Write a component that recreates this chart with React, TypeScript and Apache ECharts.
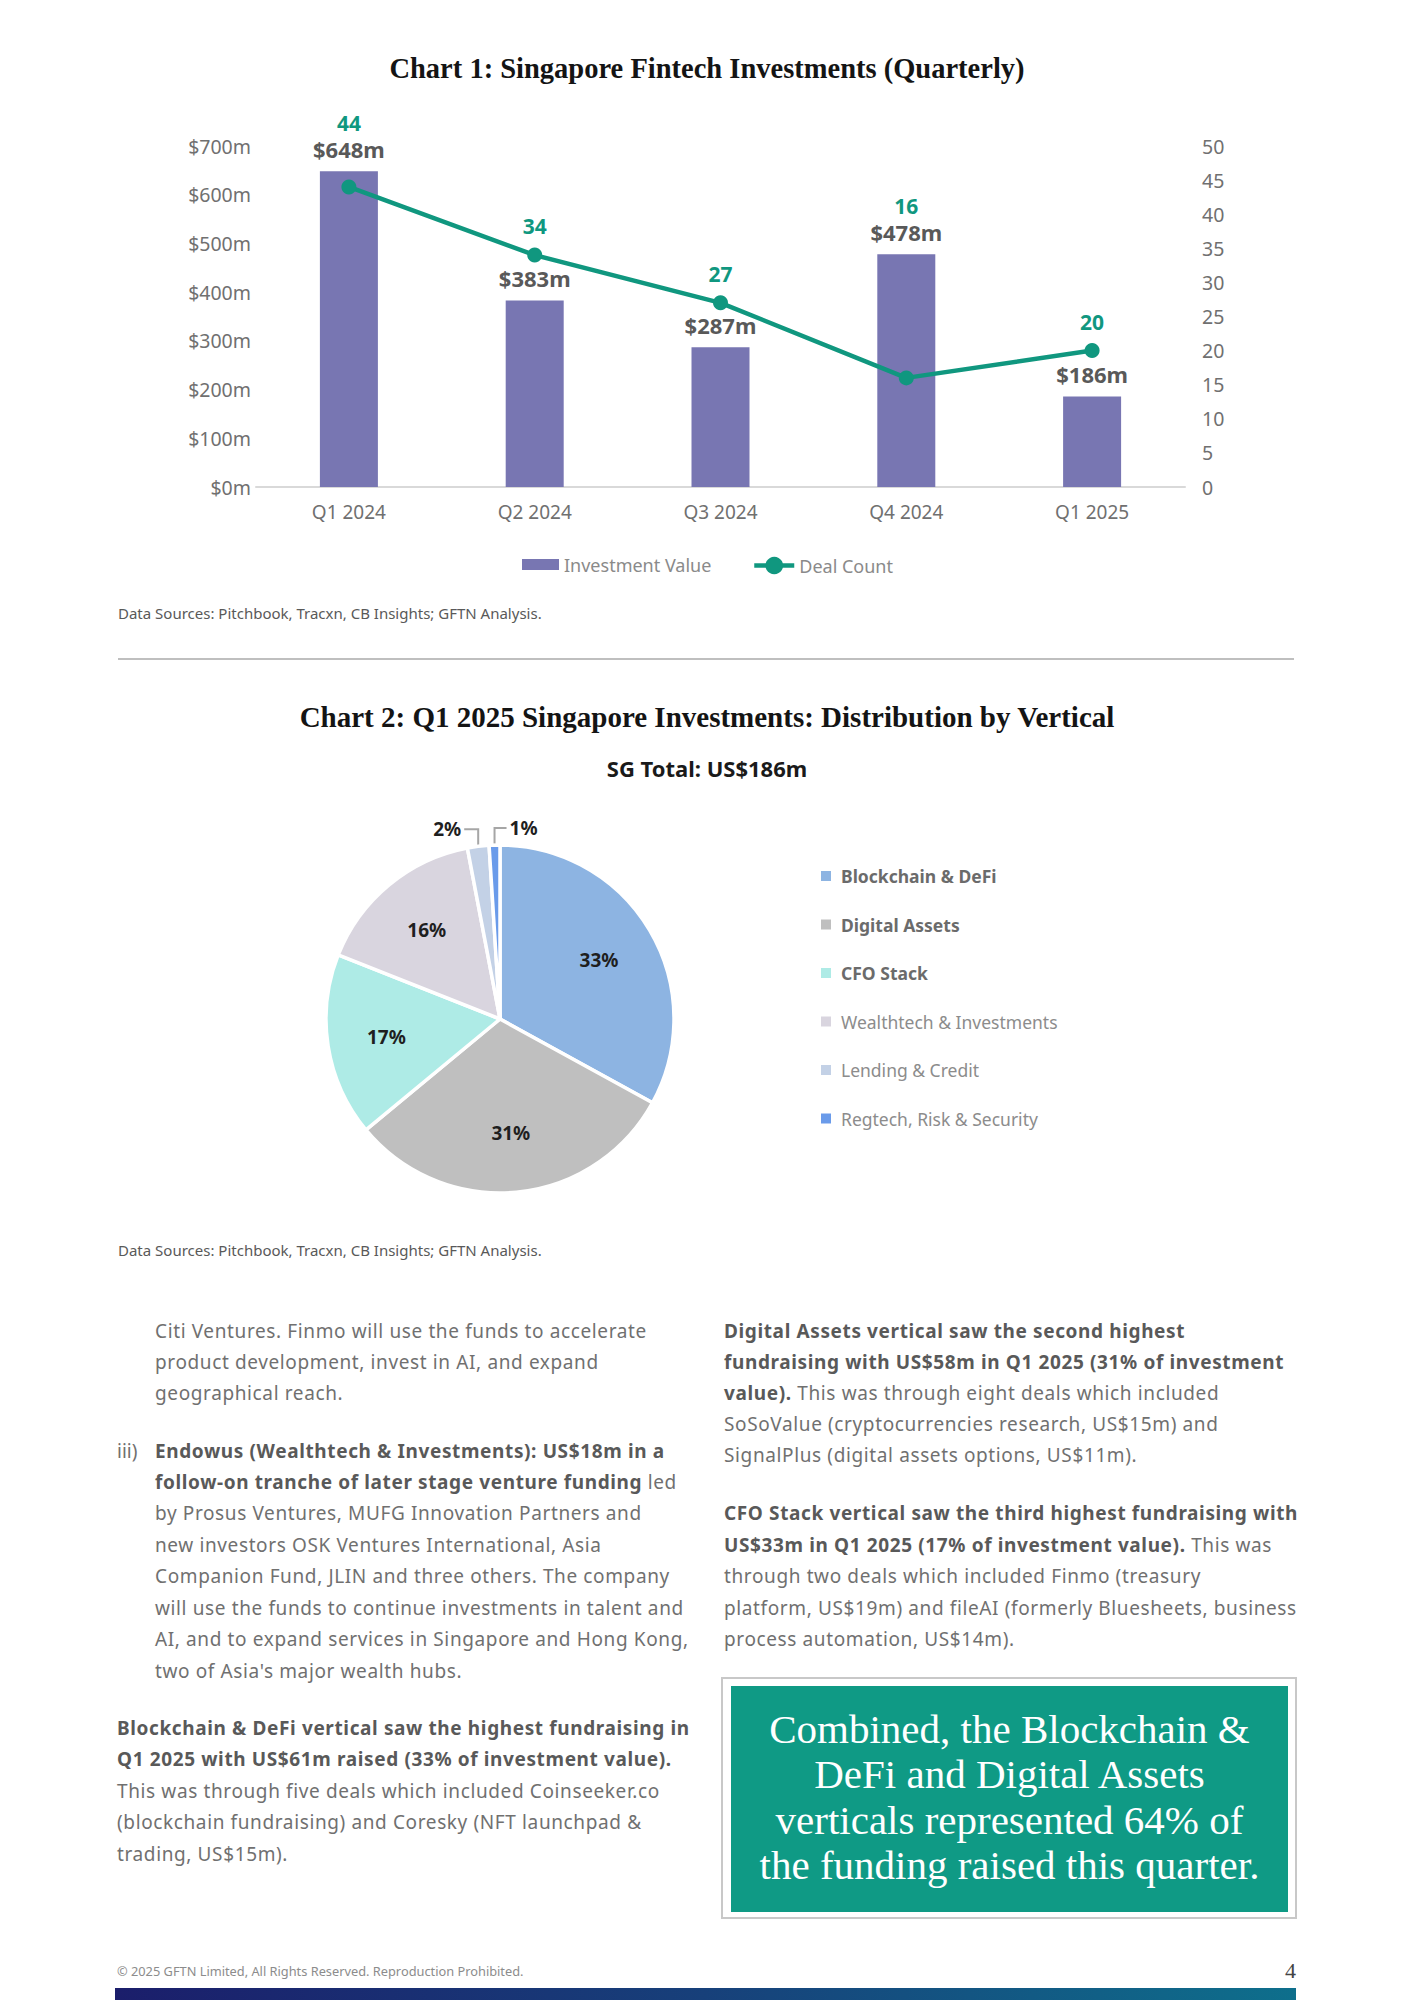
import React, { useEffect, useRef } from "react";
import * as echarts from "echarts";

// ---------- Chart 1 data ----------
const quarters = ["Q1 2024", "Q2 2024", "Q3 2024", "Q4 2024", "Q1 2025"];
const investmentValues = [648, 383, 287, 478, 186];
const dealCounts = [44, 34, 27, 16, 20];
const leftTicks = { min: 0, max: 700, interval: 100 };
const rightTicks = { min: 0, max: 50, interval: 5 };

// ---------- Chart 2 data ----------
const verticals = [
  "Blockchain & DeFi",
  "Digital Assets",
  "CFO Stack",
  "Wealthtech & Investments",
  "Lending & Credit",
  "Regtech, Risk & Security",
];
const verticalShares = [33, 31, 17, 16, 2, 1];
const verticalColors = ["#8DB4E2", "#BFBFBF", "#AEEBE6", "#D9D5DF", "#C3D1E6", "#6A9BEA"];
const boldLegendCount = 3;

// ---------- Page text ----------
type Seg = [string, boolean];
const leftLines: { x: number; y: number; segs: Seg[] }[] = [
  { x: 155, y: 1331, segs: [["Citi Ventures. Finmo will use the funds to accelerate", false]] },
  { x: 155, y: 1362, segs: [["product development, invest in AI, and expand", false]] },
  { x: 155, y: 1393, segs: [["geographical reach.", false]] },
  { x: 155, y: 1451, segs: [["Endowus (Wealthtech & Investments): US$18m in a", true]] },
  { x: 155, y: 1482, segs: [["follow-on tranche of later stage venture funding", true], [" led", false]] },
  { x: 155, y: 1513, segs: [["by Prosus Ventures, MUFG Innovation Partners and", false]] },
  { x: 155, y: 1545, segs: [["new investors OSK Ventures International, Asia", false]] },
  { x: 155, y: 1576, segs: [["Companion Fund, JLIN and three others. The company", false]] },
  { x: 155, y: 1608, segs: [["will use the funds to continue investments in talent and", false]] },
  { x: 155, y: 1639, segs: [["AI, and to expand services in Singapore and Hong Kong,", false]] },
  { x: 155, y: 1671, segs: [["two of Asia's major wealth hubs.", false]] },
  { x: 117, y: 1728, segs: [["Blockchain & DeFi vertical saw the highest fundraising in", true]] },
  { x: 117, y: 1759, segs: [["Q1 2025 with US$61m raised (33% of investment value).", true]] },
  { x: 117, y: 1791, segs: [["This was through five deals which included Coinseeker.co", false]] },
  { x: 117, y: 1822, segs: [["(blockchain fundraising) and Coresky (NFT launchpad &", false]] },
  { x: 117, y: 1854, segs: [["trading, US$15m).", false]] },
];
const rightLines: { x: number; y: number; segs: Seg[] }[] = [
  { x: 724, y: 1331, segs: [["Digital Assets vertical saw the second highest", true]] },
  { x: 724, y: 1362, segs: [["fundraising with US$58m in Q1 2025 (31% of investment", true]] },
  { x: 724, y: 1393, segs: [["value).", true], [" This was through eight deals which included", false]] },
  { x: 724, y: 1424, segs: [["SoSoValue (cryptocurrencies research, US$15m) and", false]] },
  { x: 724, y: 1455, segs: [["SignalPlus (digital assets options, US$11m).", false]] },
  { x: 724, y: 1513, segs: [["CFO Stack vertical saw the third highest fundraising with", true]] },
  { x: 724, y: 1545, segs: [["US$33m in Q1 2025 (17% of investment value).", true], [" This was", false]] },
  { x: 724, y: 1576, segs: [["through two deals which included Finmo (treasury", false]] },
  { x: 724, y: 1608, segs: [["platform, US$19m) and fileAI (formerly Bluesheets, business", false]] },
  { x: 724, y: 1639, segs: [["process automation, US$14m).", false]] },
];
const calloutLines = [
  "Combined, the Blockchain &",
  "DeFi and Digital Assets",
  "verticals represented 64% of",
  "the funding raised this quarter.",
];

const SANS = "'Noto Sans', 'Open Sans', sans-serif";
const SERIF = "'Liberation Serif', 'DejaVu Serif', serif";
const TEAL = "#10977F";
const PURPLE = "#7876B2";

export default function App() {
  const ref = useRef<HTMLDivElement>(null);

  useEffect(() => {
    if (!ref.current) return;
    const chart = echarts.init(ref.current, undefined, { renderer: "svg" });
    const lastIdx = verticalShares.length - 1;

    const option: any = {
      animation: false,
      textStyle: { fontFamily: SANS },
      title: [
        {
          text: "Chart 1: Singapore Fintech Investments (Quarterly)",
          left: "center",
          top: 49,
          textStyle: { fontFamily: SERIF, fontWeight: "bold", fontSize: 28.5, color: "#141414" },
        },
        {
          text: "Chart 2: Q1 2025 Singapore Investments: Distribution by Vertical",
          left: "center",
          top: 697,
          textStyle: { fontFamily: SERIF, fontWeight: "bold", fontSize: 29, color: "#141414" },
        },
        {
          text: "SG Total: US$186m",
          left: "center",
          top: 752,
          textStyle: { fontFamily: SANS, fontWeight: "bold", fontSize: 22, color: "#1a1a1a" },
        },
      ],
      legend: [
        {
          data: [{ name: "Investment Value", icon: "rect" }],
          left: 522,
          top: 555.5,
          padding: 0,
          itemWidth: 37,
          itemHeight: 11,
          textStyle: { fontSize: 18, color: "#8a8a8a", fontFamily: SANS },
        },
        {
          data: [{ name: "Deal Count" }],
          left: 752,
          top: 556.5,
          padding: 0,
          itemWidth: 40,
          itemHeight: 22,
          lineStyle: { width: 4.5 },
          textStyle: { fontSize: 18, color: "#8a8a8a", fontFamily: SANS },
        },
        {
          data: verticals,
          orient: "vertical",
          left: 819,
          top: 867,
          padding: 0,
          itemWidth: 12,
          itemHeight: 12,
          itemGap: 30.5,
          icon: "rect",
          formatter: (name: string) => {
            const i = verticals.indexOf(name);
            return i < boldLegendCount ? `{b|${name}}` : `{l|${name}}`;
          },
          textStyle: {
            rich: {
              b: { fontSize: 17.5, fontWeight: "bold", color: "#6b6b6b", fontFamily: SANS, padding: [0, 0, 0, 4] },
              l: { fontSize: 17.5, color: "#8c8c8c", fontFamily: SANS, padding: [0, 0, 0, 4] },
            },
          },
        },
      ],
      grid: { left: 256, top: 146, width: 929, height: 341, containLabel: false },
      xAxis: {
        type: "category",
        data: quarters,
        axisLine: { lineStyle: { color: "#D9D9D9", width: 2 } },
        axisTick: { show: false },
        axisLabel: { margin: 15, fontSize: 19, color: "#707070", fontFamily: SANS },
      },
      yAxis: [
        {
          type: "value",
          ...leftTicks,
          splitLine: { show: false },
          axisLine: { show: false },
          axisTick: { show: false },
          axisLabel: { formatter: "${value}m", fontSize: 19.5, color: "#707070", margin: 5, fontFamily: SANS },
        },
        {
          type: "value",
          position: "right",
          ...rightTicks,
          splitLine: { show: false },
          axisLine: { show: false },
          axisTick: { show: false },
          axisLabel: { fontSize: 19.5, color: "#707070", margin: 17, fontFamily: SANS },
        },
      ],
      series: [
        {
          type: "bar",
          name: "Investment Value",
          data: investmentValues,
          barWidth: 58,
          itemStyle: { color: PURPLE },
          label: {
            show: true,
            position: "top",
            distance: 11,
            formatter: "${c}m",
            fontSize: 22,
            fontWeight: "bold",
            color: "#595959",
            fontFamily: SANS,
          },
        },
        {
          type: "line",
          name: "Deal Count",
          yAxisIndex: 1,
          data: dealCounts,
          symbol: "circle",
          symbolSize: 15,
          lineStyle: { color: TEAL, width: 4.5 },
          itemStyle: { color: TEAL },
          label: {
            show: true,
            position: "top",
            distance: 11,
            fontSize: 21,
            fontWeight: "bold",
            color: TEAL,
            fontFamily: SANS,
          },
          z: 3,
        },
        {
          type: "pie",
          name: "Verticals",
          center: [500, 1019],
          radius: [0, 174],
          startAngle: 90,
          clockwise: true,
          avoidLabelOverlap: false,
          itemStyle: { borderColor: "#ffffff", borderWidth: 3.5 },
          emphasis: { disabled: true },
          data: verticalShares.map((v, i) => ({
            value: v,
            name: verticals[i],
            itemStyle: { color: verticalColors[i] },
            label: { show: v < 5 },
            labelLine: { show: v < 5 },
          })),
          label: {
            position: "outside",
            formatter: "{c}%",
            fontSize: 19,
            fontWeight: "bold",
            color: "#1f1f1f",
            fontFamily: SANS,
          },
          labelLine: { lineStyle: { color: "#A6A6A6", width: 2 }, length: 10, length2: 10 },
          labelLayout: (params: any) => {
            const pts = params.labelLinePoints;
            if (!pts || !pts[0]) return {};
            const sx = pts[0][0];
            const sy = pts[0][1];
            const right = params.dataIndex === lastIdx;
            const y = sy - 17;
            const ex = sx + (right ? 12 : -14);
            return {
              x: ex + (right ? 3 : -3),
              y,
              align: right ? "left" : "right",
              verticalAlign: "middle",
              labelLinePoints: [
                [sx, sy],
                [sx, y],
                [ex, y],
              ],
            };
          },
        },
        {
          type: "pie",
          name: "VerticalLabels",
          center: [500, 1019],
          radius: [50, 174],
          startAngle: 90,
          clockwise: true,
          silent: true,
          emphasis: { disabled: true },
          itemStyle: { color: "rgba(0,0,0,0)", borderWidth: 0 },
          labelLine: { show: false },
          data: verticalShares.map((v, i) => ({
            value: v,
            name: verticals[i],
            label: { show: v >= 5 },
          })),
          label: {
            position: "inside",
            formatter: "{c}%",
            fontSize: 19,
            fontWeight: "bold",
            color: "#1f1f1f",
            fontFamily: SANS,
          },
        },
      ],
      graphic: [
        {
          type: "text",
          left: 118,
          top: 605,
          style: { text: "Data Sources: Pitchbook, Tracxn, CB Insights; GFTN Analysis.", fontSize: 15, fill: "#595959", fontFamily: SANS },
        },
        {
          type: "line",
          shape: { x1: 118, y1: 659, x2: 1294, y2: 659 },
          style: { stroke: "#BFBFBF", lineWidth: 2 },
        },
        {
          type: "text",
          left: 118,
          top: 1242,
          style: { text: "Data Sources: Pitchbook, Tracxn, CB Insights; GFTN Analysis.", fontSize: 15, fill: "#595959", fontFamily: SANS },
        },
      ],
    };

    chart.setOption(option);

    // place deal-count labels so they never sit on a bar or on a bar's label
    const offsets = dealCounts.map((d, i) => {
      const dotY = chart.convertToPixel({ yAxisIndex: 1 } as any, d) as unknown as number;
      const barTop = chart.convertToPixel({ yAxisIndex: 0 } as any, investmentValues[i]) as unknown as number;
      if (dotY > barTop - 6) return barTop - dotY - 19;
      return 0;
    });
    chart.setOption({
      series: [
        {},
        { data: dealCounts.map((d, i) => ({ value: d, label: { offset: [0, offsets[i]] } })) },
      ],
    });

    return () => chart.dispose();
  }, []);

  const renderLine = (l: { x: number; y: number; segs: Seg[] }, k: number) => (
    <div
      key={k}
      style={{
        position: "absolute",
        left: l.x,
        top: l.y - 13,
        height: 26,
        lineHeight: "26px",
        whiteSpace: "nowrap",
        fontFamily: SANS,
        fontSize: 19,
        letterSpacing: "0.62px",
        color: "#666",
      }}
    >
      {l.segs.map((s, j) => (
        <span key={j} style={{ fontWeight: s[1] ? 700 : 400, color: s[1] ? "#595959" : "#707070" }}>
          {s[0]}
        </span>
      ))}
    </div>
  );

  return (
    <div
      style={{
        position: "absolute",
        left: 0,
        top: 0,
        width: 1414,
        height: 2000,
        overflow: "hidden",
        background: "#ffffff",
      }}
    >
      <div ref={ref} style={{ position: "absolute", left: 0, top: 0, width: 1414, height: 1300 }} />
      {leftLines.map(renderLine)}
      <div
        style={{
          position: "absolute",
          left: 117,
          top: 1451 - 13,
          lineHeight: "26px",
          fontFamily: SANS,
          fontSize: 19,
          color: "#707070",
        }}
      >
        iii)
      </div>
      {rightLines.map(renderLine)}
      <div
        style={{
          position: "absolute",
          left: 721,
          top: 1677,
          width: 576,
          height: 242,
          border: "2px solid #C8C8C8",
          boxSizing: "border-box",
        }}
      />
      <div
        style={{
          position: "absolute",
          left: 731,
          top: 1686,
          width: 557,
          height: 226,
          background: "#0F9A85",
        }}
      />
      {calloutLines.map((t, i) => (
        <div
          key={i}
          style={{
            position: "absolute",
            left: 731,
            width: 557,
            top: 1729 + i * 45.3 - 24,
            height: 48,
            lineHeight: "48px",
            textAlign: "center",
            whiteSpace: "nowrap",
            fontFamily: SERIF,
            fontSize: 41,
            color: "#ffffff",
          }}
        >
          {t}
        </div>
      ))}
      <div
        style={{
          position: "absolute",
          left: 117,
          top: 1971 - 9,
          lineHeight: "18px",
          fontFamily: SANS,
          fontSize: 12.8,
          color: "#8c8c8c",
          whiteSpace: "nowrap",
        }}
      >
        © 2025 GFTN Limited, All Rights Reserved. Reproduction Prohibited.
      </div>
      <div
        style={{
          position: "absolute",
          left: 1200,
          width: 96,
          top: 1971 - 13,
          lineHeight: "26px",
          textAlign: "right",
          fontFamily: SERIF,
          fontSize: 22,
          color: "#444",
        }}
      >
        4
      </div>
      <div
        style={{
          position: "absolute",
          left: 115,
          top: 1988,
          width: 1181,
          height: 12,
          background: "linear-gradient(90deg, #1B1E6B 0%, #17407A 50%, #0E6F8C 100%)",
        }}
      />
    </div>
  );
}
